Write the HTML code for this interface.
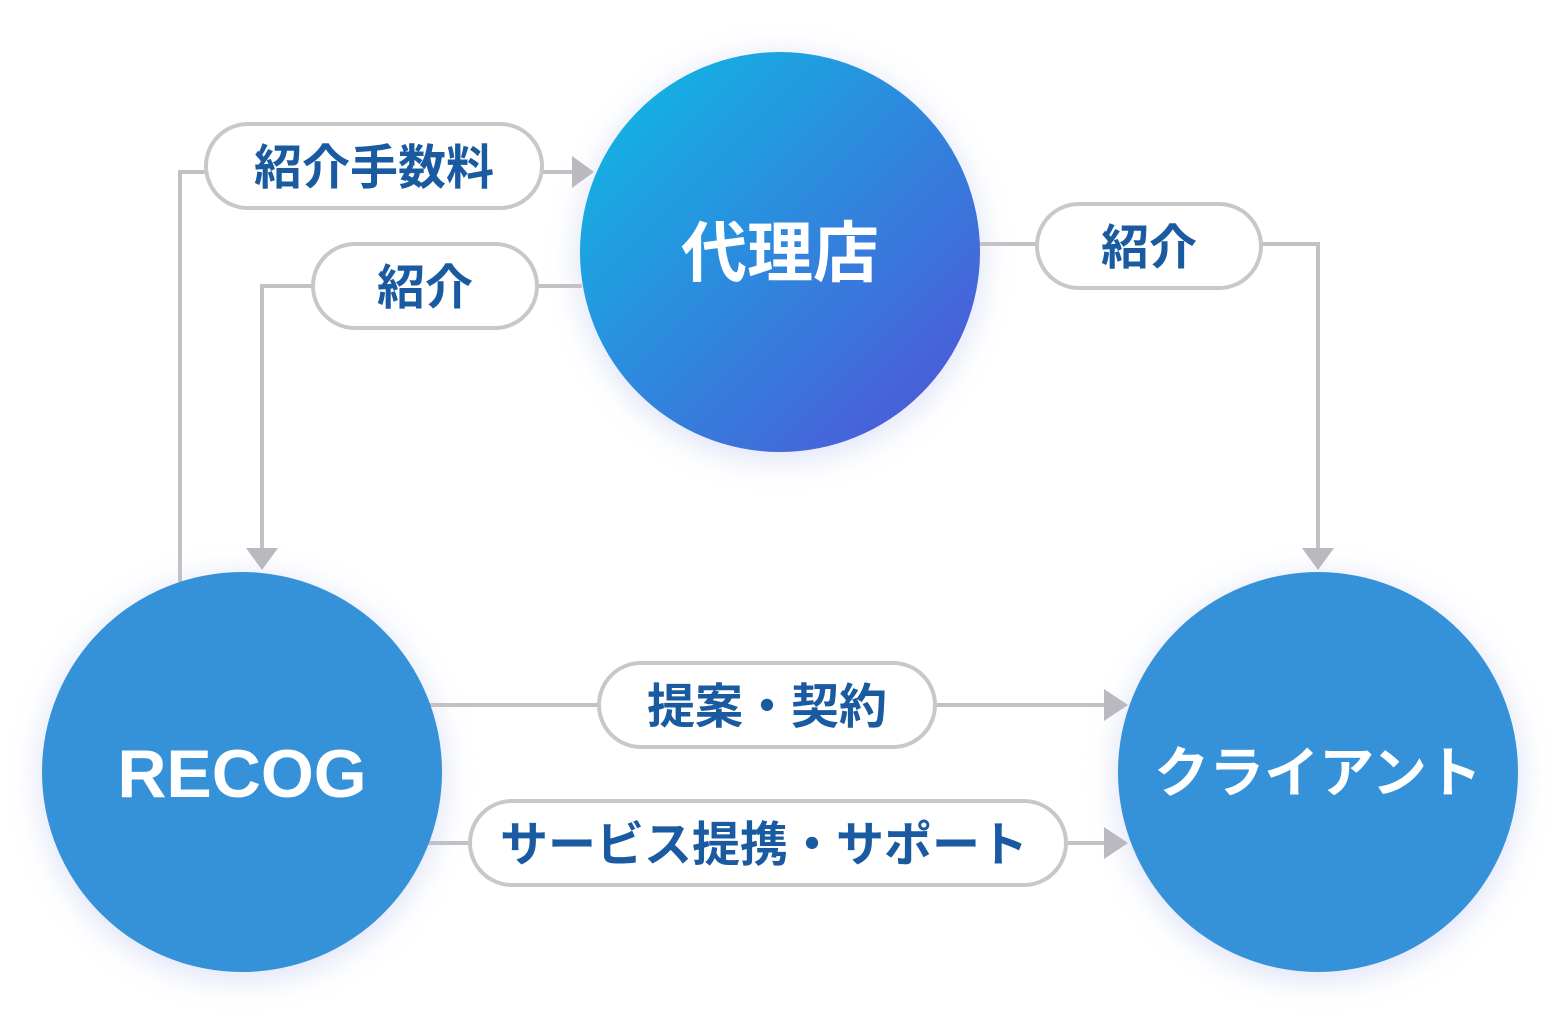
<!DOCTYPE html>
<html><head><meta charset="utf-8"><style>
html,body{margin:0;padding:0;background:#fff;}
svg{display:block;}
text{font-family:"Liberation Sans","Noto Sans CJK JP",sans-serif;font-weight:bold;}
</style></head><body>
<svg width="1560" height="1034" viewBox="0 0 1560 1034" xmlns="http://www.w3.org/2000/svg">
<defs>
<linearGradient id="g" x1="0" y1="0" x2="1" y2="1">
<stop offset="0.1" stop-color="#12b3e3"/><stop offset="0.9" stop-color="#4c5bd8"/>
</linearGradient>
<filter id="sh" x="-30%" y="-30%" width="160%" height="160%">
<feGaussianBlur stdDeviation="14"/>
</filter>
</defs>
<g fill="#c9d2f2" opacity="0.55" filter="url(#sh)">
<circle cx="780" cy="258" r="204"/>
<circle cx="242" cy="778" r="204"/>
<circle cx="1318" cy="778" r="204"/>
</g>
<g stroke="#c2c2c6" stroke-width="4" fill="none">
<polyline points="180,582 180,172 206,172"/>
<line x1="542" y1="172" x2="576" y2="172"/>
<line x1="582" y1="286" x2="537" y2="286"/>
<polyline points="313,286 262,286 262,550"/>
<line x1="978" y1="244" x2="1037" y2="244"/>
<polyline points="1261,244 1318,244 1318,550"/>
<line x1="430" y1="705" x2="599" y2="705"/>
<line x1="935" y1="705" x2="1106" y2="705"/>
<line x1="428" y1="843" x2="470" y2="843"/>
<line x1="1066" y1="843" x2="1106" y2="843"/>
</g>
<g fill="#b9b9bf">
<polygon points="572,156 594,172 572,188"/>
<polygon points="246,548 262,570 278,548"/>
<polygon points="1302,548 1318,570 1334,548"/>
<polygon points="1104,689 1128,705 1104,721"/>
<polygon points="1104,827 1128,843 1104,859"/>
</g>
<circle cx="780" cy="252" r="200" fill="url(#g)"/>
<circle cx="242" cy="772" r="200" fill="#3592d8"/>
<circle cx="1318" cy="772" r="200" fill="#3592d8"/>
<g fill="#fff" stroke="#c8c8c8" stroke-width="4">
<rect x="206" y="124" width="336" height="84" rx="42"/>
<rect x="313" y="244" width="224" height="84" rx="42"/>
<rect x="1037" y="204" width="224" height="84" rx="42"/>
<rect x="599" y="663" width="336" height="84" rx="42"/>
<rect x="470" y="801" width="596" height="84" rx="42"/>
</g>
<g fill="#1a5aa0" font-size="48" text-anchor="middle">
<text x="374" y="184">紹介手数料</text>
<text x="425" y="304">紹介</text>
<text x="1149" y="264">紹介</text>
<text x="767" y="723">提案・契約</text>
<text x="764" y="861">サービス提携・サポート</text>
</g>
<g fill="#fff" text-anchor="middle">
<text x="780" y="276" font-size="66">代理店</text>
<text x="242" y="797" font-size="68">RECOG</text>
<text x="1318" y="792" font-size="55">クライアント</text>
</g>
</svg>
</body></html>
